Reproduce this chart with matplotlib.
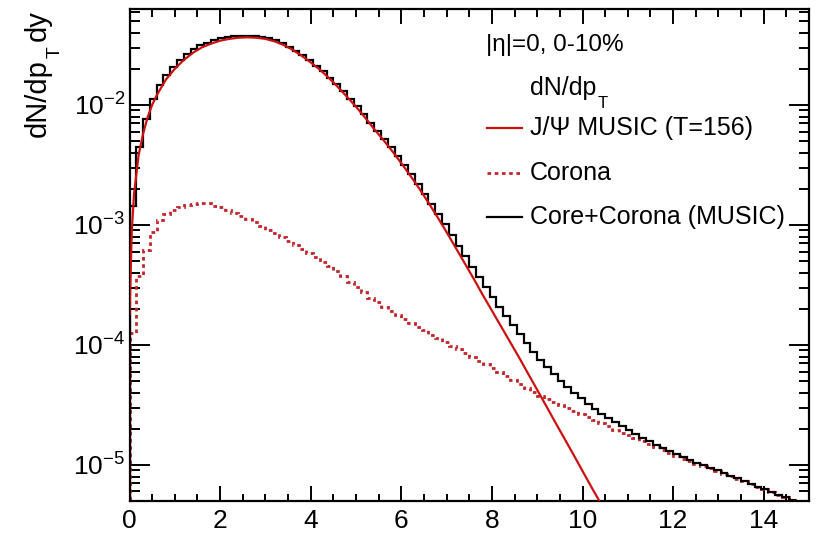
import numpy as np
import matplotlib
matplotlib.use("Agg")
import matplotlib.pyplot as plt
from matplotlib.lines import Line2D
from matplotlib.ticker import MultipleLocator, LogLocator, NullFormatter

plt.rcParams['font.family'] = ['Liberation Sans', 'DejaVu Sans']
plt.rcParams['mathtext.fontset'] = 'custom'
plt.rcParams['mathtext.rm'] = 'Liberation Sans'
plt.rcParams['mathtext.it'] = 'Liberation Sans:italic'
plt.rcParams['mathtext.bf'] = 'Liberation Sans:bold'

# ---------------- data ----------------
bin_edges = np.linspace(0.0, 15.0, 101)   # 100 bins of 0.15 GeV

# J/Psi MUSIC (T=156) curve
music_pt = [0.0, 0.05, 0.1, 0.2, 0.3, 0.4, 0.5, 0.6, 0.8, 1.0, 1.2, 1.4, 1.6, 1.8,
            2.0, 2.2, 2.4, 2.6, 2.8, 3.0, 3.2, 3.4, 3.6, 3.8, 4.0, 4.2, 4.4, 4.6,
            4.8, 5.0, 5.2, 5.4, 5.6, 5.8, 6.0, 6.2, 6.4, 6.6, 6.8, 7.0, 7.2, 7.4,
            7.6, 7.8, 8.0, 8.2, 8.4, 8.6, 8.8, 9.0, 9.2, 9.4, 9.6, 9.8, 10.0, 10.2,
            10.4, 10.6, 10.8]
music_val = [1.8e-4, 8.9e-4, 1.8e-3, 3.8e-3, 5.75e-3, 7.9e-3, 1.0e-2, 1.2e-2, 1.62e-2,
             2.0e-2, 2.37e-2, 2.72e-2, 3.02e-2, 3.24e-2, 3.43e-2, 3.55e-2, 3.63e-2,
             3.66e-2, 3.63e-2, 3.55e-2, 3.39e-2, 3.16e-2, 2.88e-2, 2.57e-2, 2.26e-2,
             1.97e-2, 1.68e-2, 1.41e-2, 1.17e-2, 9.66e-3, 7.85e-3, 6.3e-3, 5.13e-3,
             4.12e-3, 3.27e-3, 2.57e-3, 2.0e-3, 1.53e-3, 1.16e-3, 8.7e-4, 6.46e-4,
             4.79e-4, 3.55e-4, 2.6e-4, 1.93e-4, 1.43e-4, 1.06e-4, 7.85e-5, 5.75e-5,
             4.22e-5, 3.09e-5, 2.26e-5, 1.66e-5, 1.22e-5, 8.9e-6, 6.5e-6, 4.8e-6,
             3.5e-6, 2.6e-6]

# Corona histogram (100 bins)
corona = [1.26e-4, 3.72e-4, 6.17e-4, 8.71e-4, 1.10e-3, 1.23e-3, 1.33e-3, 1.41e-3, 1.46e-3, 1.50e-3,
          1.51e-3, 1.51e-3, 1.45e-3, 1.40e-3, 1.32e-3, 1.25e-3, 1.18e-3, 1.11e-3, 1.05e-3, 9.77e-4,
          9.12e-4, 8.55e-4, 7.98e-4, 7.41e-4, 6.84e-4, 6.31e-4, 5.82e-4, 5.37e-4, 4.95e-4, 4.52e-4,
          4.12e-4, 3.72e-4, 3.35e-4, 3.02e-4, 2.75e-4, 2.48e-4, 2.26e-4, 2.07e-4, 1.91e-4, 1.76e-4,
          1.64e-4, 1.52e-4, 1.41e-4, 1.32e-4, 1.22e-4, 1.14e-4, 1.06e-4, 9.86e-5, 9.16e-5, 8.51e-5,
          7.94e-5, 7.38e-5, 6.87e-5, 6.38e-5, 5.92e-5, 5.50e-5, 5.09e-5, 4.72e-5, 4.37e-5, 4.06e-5,
          3.76e-5, 3.53e-5, 3.33e-5, 3.15e-5, 2.97e-5, 2.81e-5, 2.65e-5, 2.50e-5, 2.36e-5, 2.22e-5,
          2.09e-5, 1.97e-5, 1.86e-5, 1.76e-5, 1.66e-5, 1.57e-5, 1.48e-5, 1.40e-5, 1.32e-5, 1.25e-5,
          1.19e-5, 1.13e-5, 1.07e-5, 1.02e-5, 9.77e-6, 9.33e-6, 8.91e-6, 8.47e-6, 8.05e-6, 7.66e-6,
          7.28e-6, 6.92e-6, 6.58e-6, 6.25e-6, 5.94e-6, 5.65e-6, 5.37e-6, 5.11e-6, 4.85e-6, 4.61e-6]

# Core + Corona (MUSIC) histogram (100 bins)
core_corona = [1.45e-3, 4.5e-3, 7.7e-3, 1.13e-2, 1.455e-2, 1.79e-2, 2.08e-2, 2.36e-2, 2.64e-2, 2.91e-2,
               3.13e-2, 3.31e-2, 3.45e-2, 3.58e-2, 3.66e-2, 3.72e-2, 3.76e-2, 3.77e-2, 3.74e-2, 3.68e-2,
               3.58e-2, 3.45e-2, 3.27e-2, 3.06e-2, 2.83e-2, 2.59e-2, 2.36e-2, 2.13e-2, 1.91e-2, 1.69e-2,
               1.48e-2, 1.30e-2, 1.125e-2, 9.72e-3, 8.33e-3, 7.10e-3, 6.06e-3, 5.20e-3, 4.43e-3, 3.75e-3,
               3.15e-3, 2.64e-3, 2.20e-3, 1.82e-3, 1.50e-3, 1.23e-3, 1.01e-3, 8.22e-4, 6.69e-4, 5.46e-4,
               4.47e-4, 3.66e-4, 3.01e-4, 2.50e-4, 2.07e-4, 1.74e-4, 1.46e-4, 1.23e-4, 1.04e-4, 8.80e-5,
               7.51e-5, 6.50e-5, 5.69e-5, 5.02e-5, 4.45e-5, 3.98e-5, 3.58e-5, 3.24e-5, 2.94e-5, 2.68e-5,
               2.46e-5, 2.26e-5, 2.09e-5, 1.94e-5, 1.81e-5, 1.69e-5, 1.57e-5, 1.47e-5, 1.38e-5, 1.30e-5,
               1.23e-5, 1.16e-5, 1.09e-5, 1.04e-5, 9.91e-6, 9.44e-6, 9.0e-6, 8.54e-6, 8.10e-6, 7.70e-6,
               7.31e-6, 6.94e-6, 6.60e-6, 6.26e-6, 5.95e-6, 5.65e-6, 5.37e-6, 5.11e-6, 4.85e-6, 4.61e-6]

x_range = (0.0, 15.0)
y_range = (5.0e-6, 6.3e-2)
y_title_parts = ["dN/dp", "T", "dy"]
info_text = "|η|=0, 0-10%"
legend_header_parts = ["dN/dp", "T"]
legend_labels = ["J/Ψ MUSIC (T=156)", "Corona", "Core+Corona (MUSIC)"]

RED = "#cc1111"
DRED = "#c0262a"

W, H = 817, 535
fig = plt.figure(figsize=(W / 100, H / 100), dpi=100)
L, R, T, B = 129.5, 809, 9, 501
ax = fig.add_axes([L / W, 1 - B / H, (R - L) / W, (B - T) / H])

ax.plot(music_pt, music_val, color=RED, lw=1.6, zorder=3)
ax.stairs(corona, bin_edges, color=DRED, lw=2.0, linestyle=(0, (1.3, 1.3)), zorder=2)
ax.stairs(core_corona, bin_edges, color="black", lw=1.6, zorder=2)

ax.set_yscale("log")
ax.set_xlim(*x_range)
ax.set_ylim(*y_range)

ax.xaxis.set_major_locator(MultipleLocator(2))
ax.xaxis.set_minor_locator(MultipleLocator(0.5))
ax.yaxis.set_major_locator(LogLocator(base=10, numticks=20))
ax.yaxis.set_minor_locator(LogLocator(base=10, subs=np.arange(2, 10), numticks=20))
ax.yaxis.set_minor_formatter(NullFormatter())

ax.tick_params(axis="both", which="both", direction="in", top=True, right=True, width=1.4)
ax.tick_params(axis="x", which="major", length=10.8, labelsize=19, pad=6)
ax.tick_params(axis="x", which="minor", length=5.4)
ax.tick_params(axis="y", which="major", length=14.7, labelsize=19, pad=3)
ax.tick_params(axis="y", which="minor", length=7.3)
for sp in ax.spines.values():
    sp.set_linewidth(1.6)

def fx(px):
    return px / W

def fy(py):
    return 1 - py / H

renderer = fig.canvas.get_renderer()

# rotated y-axis title built from pieces (reads bottom to top)
t1 = fig.text(fx(38), fy(137), y_title_parts[0], rotation=90, ha="center", va="bottom", fontsize=21)
bb = t1.get_window_extent(renderer)
top1 = bb.y1
t2 = fig.text((bb.x1 - 5) / W, (top1 + 1) / H, y_title_parts[1], rotation=90, ha="left",
              va="bottom", fontsize=14)
bb2 = t2.get_window_extent(renderer)
fig.text(fx(38), (bb2.y1 + 5) / H, y_title_parts[2], rotation=90, ha="center", va="bottom",
         fontsize=21)

fig.text(fx(486), fy(45), info_text, ha="left", va="center", fontsize=17.5)
h1 = fig.text(fx(530), fy(88), legend_header_parts[0], ha="left", va="center", fontsize=18)
hb = h1.get_window_extent(renderer)
fig.text((hb.x1 + 1) / W, fy(103), legend_header_parts[1], ha="left", va="center", fontsize=12)

rows = [128, 173, 217]
styles = [dict(color=RED, lw=1.6), dict(color=DRED, lw=2.0, linestyle=(0, (1.3, 1.3))),
          dict(color="black", lw=1.6)]
for yy, lab, st in zip(rows, legend_labels, styles):
    fig.add_artist(Line2D([fx(487), fx(522)], [fy(yy), fy(yy)], **st))
    fig.text(fx(530), fy(yy), lab, ha="left", va="center", fontsize=18)

fig.savefig("out.png", dpi=100)
